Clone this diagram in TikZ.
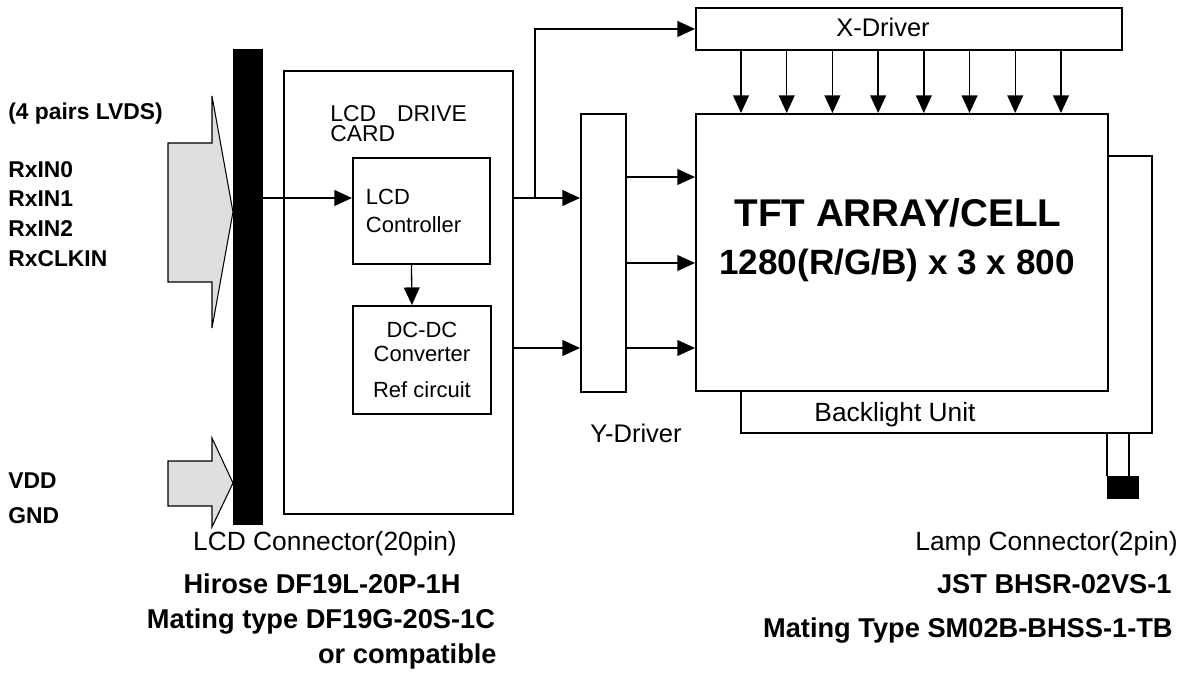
\documentclass[tikz,border=0pt]{standalone}
\usepackage{fontspec}
\setmainfont{Liberation Sans}
\usetikzlibrary{arrows.meta}

\begin{document}
\begin{tikzpicture}[x=0.02cm,y=-0.02cm,
box/.style = {draw, line width=1.1pt, inner sep=0pt, anchor=north west},
conn/.style = {line width=0.75pt, -{Triangle[length=10pt,width=9pt]}},
wire/.style = {line width=0.8pt},
feed/.style = {line width=0.6pt, fill=gray!25},
sig/.style = {inner sep=0pt, anchor=west, align=left,
        font=\fontsize{13}{17}\selectfont\bfseries},
txt/.style = {inner sep=0pt, font=\fontsize{12.5}{13.6}\selectfont},
drv/.style = {inner sep=0pt, anchor=base, font=\fontsize{14.5}{16}\selectfont},
part/.style = {inner sep=0pt, font=\fontsize{15}{18}\selectfont},
bpart/.style = {part, font=\fontsize{15.5}{18}\selectfont\bfseries}]

        \useasboundingbox (0,0) rectangle (1188,686);

        % LCD connector with its two inputs
        \node[box, fill=black, minimum width=0.56cm, minimum height=9.48cm] (Conn_Bar) at (233,49) {};
        \draw[feed] (168,143) -- (212,143) -- (212,96) -- (Conn_Bar.west |- 0,212)
                -- (212,328) -- (212,282) -- (168,282) -- cycle;
        \draw[feed] (168,461) -- (212,461) -- (212,438) -- (Conn_Bar.west |- 0,483)
                -- (212,527) -- (212,506) -- (168,506) -- cycle;
        \node[sig] (LVDS_Txt) at (8,114) {(4 pairs LVDS)};
        \node[sig] (Rx_Txt) at (8,214) {RxIN0\\RxIN1\\RxIN2\\RxCLKIN};
        \node[sig, font=\fontsize{13}{19.8}\selectfont\bfseries] (Pwr_Txt) at (8,498) {VDD\\GND};

        % drive card
        \node[box, minimum width=4.58cm, minimum height=8.86cm] (Drive_Card) at (283,70) {};
        \node[txt, anchor=west, align=left, font=\fontsize{13}{11.5}\selectfont] (Card_Txt) at (330,124)
                {LCD\hspace{12pt}DRIVE\\CARD};
        \node[box, txt, align=left, font=\fontsize{12.5}{16.4}\selectfont, inner xsep=0.26cm,
              text width=2.22cm, minimum height=2.12cm] (LCD_Ctrl) at (352,157) {LCD\\Controller};
        \node[box, txt, align=center, minimum width=2.76cm, minimum height=2.16cm] (DC_DC) at (352,305)
                {DC-DC\\Converter\\[6.8pt]Ref circuit};

        % drivers and panel
        \node[box, minimum width=0.9cm, minimum height=5.56cm] (Y_Drv) at (580,113) {};
        \node[box, minimum width=8.52cm, minimum height=0.84cm] (X_Drv) at (695,7) {};
        \node[box, minimum width=8.24cm, minimum height=5.54cm] (TFT_Cell) at (695,113) {};
        \node[drv] (X_Drv_Txt) at (883,37) {X-Driver};
        \node[drv] (Y_Drv_Txt) at (636,442) {Y-Driver};
        \node[inner sep=0pt, anchor=base, font=\fontsize{22}{24}\selectfont\bfseries] (TFT_Title) at (898,227)
                {TFT ARRAY/CELL};
        \node[inner sep=0pt, anchor=base, font=\fontsize{20}{22}\selectfont\bfseries] (TFT_Res) at (897,275)
                {1280(R/G/B) x 3 x 800};

        % backlight and lamp connector
        \coordinate (BL_NE) at (1152,156);
        \coordinate (BL_SW) at (741,433);
        \draw[wire] (TFT_Cell.east |- BL_NE) -- (BL_NE) |- (BL_SW) -- (BL_SW |- TFT_Cell.south);
        \node[drv, font=\fontsize{15}{16}\selectfont] (BL_Txt) at (895,421) {Backlight Unit};
        \node[box, fill=black, line width=0.6pt, minimum width=0.62cm, minimum height=0.44cm] (Lamp_Conn) at (1107,476) {};
        \draw[wire] (Lamp_Conn.north west) -- (Lamp_Conn.north west |- BL_SW);
        \draw[wire] ([xshift=0.44cm]Lamp_Conn.north west) -- ([xshift=0.44cm]Lamp_Conn.north west |- BL_SW);

        % signal paths
        \coordinate (Sig_In) at (261,198);
        \coordinate (Sig_Out) at (512,198);
        \coordinate (Branch) at (535,198);
        \coordinate (Pwr_Out) at (512,348);
        \draw[conn] (Sig_In) -- (Sig_In -| LCD_Ctrl.west);
        \draw[conn] ([xshift=-0.2cm]LCD_Ctrl.south) -- ([xshift=-0.2cm]DC_DC.north);
        \draw[conn] (Sig_Out) -- (Sig_Out -| Y_Drv.west);
        \draw[conn] (Branch) |- (X_Drv.west);
        \draw[conn] (Pwr_Out) -- (Pwr_Out -| Y_Drv.west);
        \foreach \yy in {177,263,348}
                \draw[conn] (Y_Drv.east |- 0,\yy) -- (TFT_Cell.west |- 0,\yy);
        \foreach \k in {0,...,7}{
                \pgfmathsetmacro\xx{741+45.71*\k}
                \draw[conn] (X_Drv.south -| \xx,0) -- (TFT_Cell.north -| \xx,0);
        }

        % part numbers
        \node[part, anchor=base] (LCD_Conn_Txt) at (325,550) {LCD Connector(20pin)};
        \node[bpart, anchor=base] (Hirose_Txt) at (322,593) {Hirose DF19L-20P-1H};
        \node[bpart, anchor=base] (Mate_L_Txt) at (321,628) {Mating type DF19G-20S-1C};
        \node[bpart, anchor=base east] (Compat_Txt) at (497,663) {or compatible};
        \node[part, anchor=base east] (Lamp_Txt) at (1178,550) {Lamp Connector(2pin)};
        \node[bpart, anchor=base east] (JST_Txt) at (1172,593) {JST BHSR-02VS-1};
        \node[bpart, anchor=base east] (Mate_R_Txt) at (1173,637) {Mating Type SM02B-BHSS-1-TB};

\end{tikzpicture}
\end{document}
